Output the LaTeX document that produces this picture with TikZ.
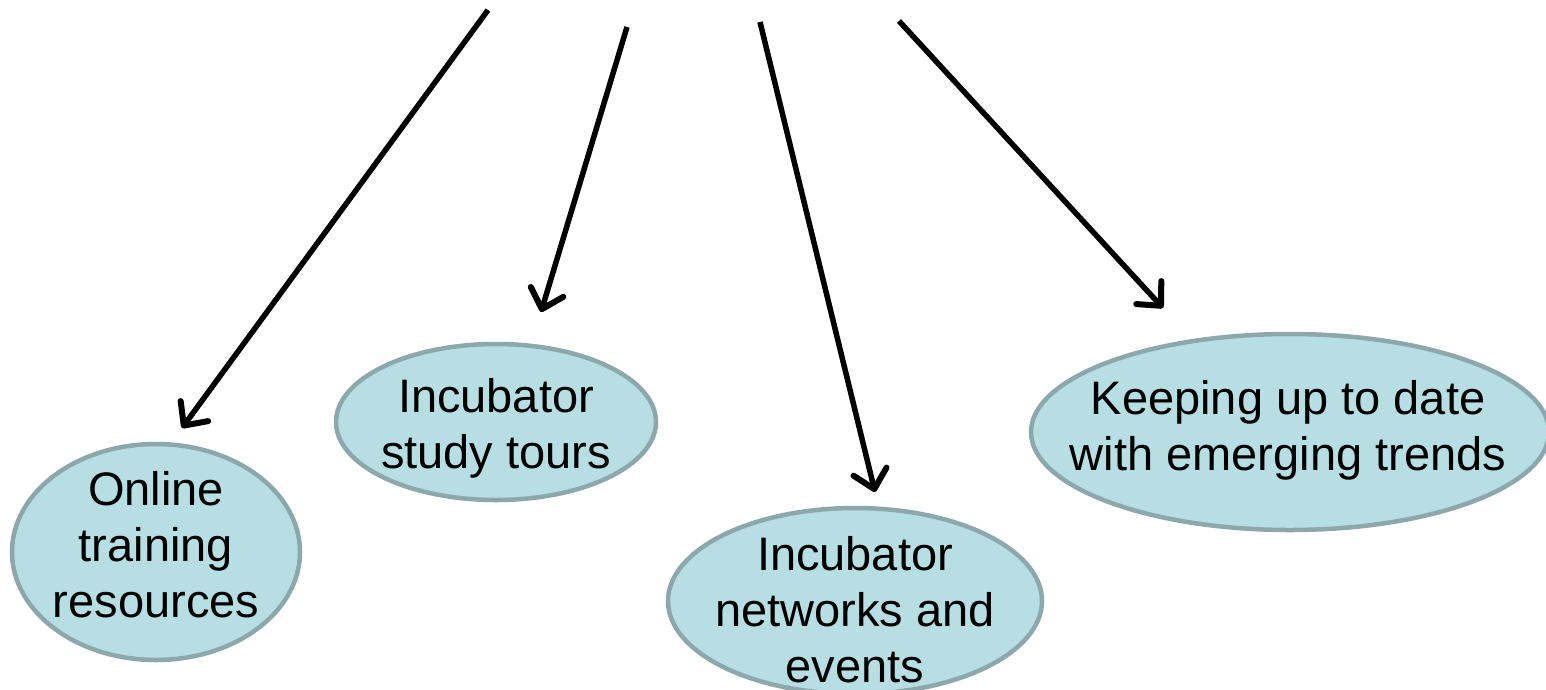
\documentclass[tikz,border=0pt]{standalone}
\usepackage{fontspec}
\setmainfont{Liberation Sans}
\usetikzlibrary{shapes.geometric,arrows.meta}
\definecolor{ellfill}{HTML}{B7DEE3}
\definecolor{elledge}{HTML}{8CA8AC}
\tikzset{
  bubble/.style={ellipse, draw=elledge, fill=ellfill, line width=4.5pt, inner sep=0pt},
  btext/.style={align=center, font=\fontsize{47}{56}\selectfont, inner sep=0pt},
  conn/.style={line width=5.5pt, -{Straight Barb[length=18pt,width=34pt,line width=6pt,round]}}
}
\begin{document}
\begin{tikzpicture}[x=1pt,y=-1pt]
\useasboundingbox (0,0) rectangle (1546,689);
% ellipses
\node[bubble, minimum width=288pt, minimum height=216pt] (e1) at (156,552) {};
\node[bubble, minimum width=320pt, minimum height=156pt] (e2) at (496,422) {};
\node[bubble, minimum width=374pt, minimum height=186pt] (e3) at (855,601) {};
\node[bubble, minimum width=518pt, minimum height=196pt] (e4) at (1290,432) {};
% texts
\node[btext] (t1) at (156,545) {Online\\training\\resources};
\node[btext] (t2) at (496,428) {Incubator\\study tours};
\node[btext] (t3) at (855,610) {Incubator\\networks and\\events};
\node[btext] (t4) at (1288,430) {Keeping up to date\\with emerging trends};
% connector ends
\coordinate (s1) at (488,10);
\coordinate (s2) at (627,27);
\coordinate (s3) at (760,22);
\coordinate (s4) at (899,21);
\coordinate (a1) at (182,428);
\coordinate (a2) at (541,312);
\coordinate (a3) at (875,492);
\coordinate (a4) at (1163,308);
\draw[conn] (s1) -- (a1);
\draw[conn] (s2) -- (a2);
\draw[conn] (s3) -- (a3);
\draw[conn] (s4) -- (a4);
\end{tikzpicture}
\end{document}
